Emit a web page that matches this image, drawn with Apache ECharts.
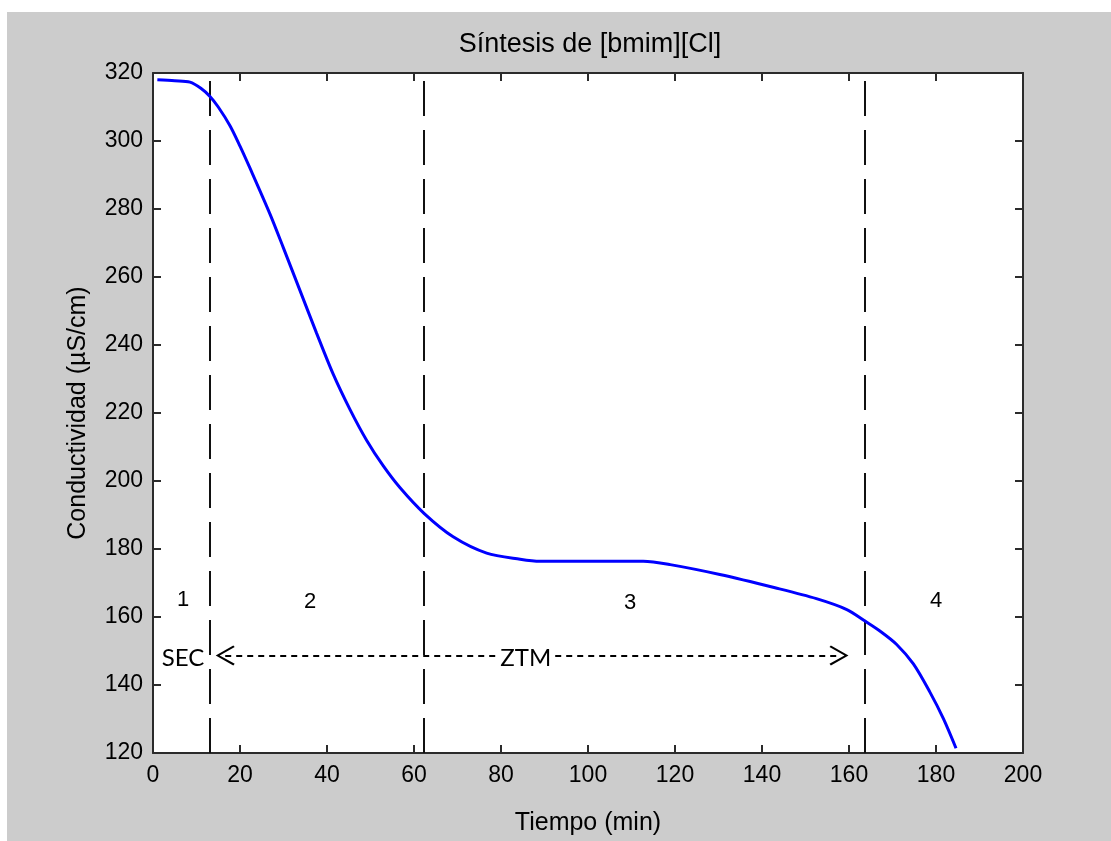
<!DOCTYPE html>
<html>
<head>
	<meta charset="utf-8">
	<title>Síntesis de [bmim][Cl]</title>
	<script src="https://cdn.jsdelivr.net/npm/echarts@6/dist/echarts.min.js"></script>
</head>
<style type="text/css">
html, body {
	margin: 0;
	padding: 0;
	background: #ffffff;
}
#fondo {
	position: absolute;
	left: 7px;
	top: 12px;
	width: 1104px;
	height: 829px;
	background: #cccccc;
}
#grafica {
	position: absolute;
	left: 0;
	top: 0;
	width: 1111px;
	height: 841px;
}
</style>
<body>
	<div id="fondo"></div>
	<div id="grafica"></div>
</body>

<script type="text/javascript">
	var tiempo = [1, 5, 8.5, 11, 13.1, 15, 17.7, 20, 22.3, 26.9, 30, 33.8, 37.6, 41.4, 45.3, 49.1,
		52.9, 56.8, 62.3, 69, 76.7, 84.4, 89, 100, 112.7, 118.9, 130.3, 143, 152.5, 159.5, 163.7,
		167.1, 170.9, 174.8, 178.6, 181.7, 184.6];
	var conductividad = [318, 317.7, 317.3, 315.5, 313.1, 310, 304.5, 298.5, 292, 278.5, 268.5, 256,
		243.5, 231.5, 221, 212, 204.5, 198, 190.5, 183.6, 178.8, 177, 176.4, 176.4, 176.4, 175.4,
		172.5, 168.6, 165.4, 162.2, 158.8, 155.9, 152, 146.2, 137.9, 130.1, 121.4];

	// limites de zonas (lineas verticales)
	var limites = [13.1, 62.3, 163.7];

	// etiquetas de zonas
	var zonas = ['1', '2', '3', '4'];
	var zonasX = [6.9, 36.1, 109.7, 180];
	var zonasY = [165, 164.4, 164.1, 164.7];

	// flecha doble SEC / ZTM
	var flechaY = 148.7;
	var flechaX = [16.6, 157.7];
	var notas = ['SEC', 'ZTM'];
	var notasX = [6.9, 85.7];
	var notasY = [148, 148];

	var ticksX = [0, 200, 20];
	var ticksY = [120, 320, 20];

	var Chart = echarts.init(document.getElementById('grafica'));

	var fuente = 'Liberation Sans, Arial, sans-serif';
	var flechaPath = 'path://M50,0 L100,88 L92,95 L50,20 L8,95 L0,88 Z';

	var datosCurva = [];
	for (var i = 0; i < tiempo.length; i++) {
		datosCurva.push([tiempo[i], conductividad[i]]);
	}
	var datosZonas = [];
	for (var i = 0; i < zonas.length; i++) {
		datosZonas.push({value: [zonasX[i], zonasY[i]], name: zonas[i]});
	}
	var datosNotas = [];
	for (var i = 0; i < notas.length; i++) {
		datosNotas.push({value: [notasX[i], notasY[i]], name: notas[i]});
	}
	var lineasV = [];
	for (var i = 0; i < limites.length; i++) {
		lineasV.push({xAxis: limites[i]});
	}

	var ejeX = function (pos, etiquetas) {
		return {
			type: 'value',
			position: pos,
			min: ticksX[0], max: ticksX[1], interval: ticksX[2],
			name: etiquetas ? 'Tiempo (min)' : '',
			nameLocation: 'middle',
			nameGap: 58,
			nameTextStyle: {color: '#000', fontSize: 25, fontFamily: fuente},
			axisLine: {show: true, onZero: false, lineStyle: {color: '#2b2b2b', width: 2}},
			axisTick: {show: true, inside: true, length: 8, lineStyle: {color: '#2b2b2b', width: 2}},
			axisLabel: {show: etiquetas, color: '#000', fontSize: 23, fontFamily: fuente, margin: 11},
			splitLine: {show: false}
		};
	};
	var ejeY = function (pos, etiquetas) {
		return {
			type: 'value',
			position: pos,
			min: ticksY[0], max: ticksY[1], interval: ticksY[2],
			name: etiquetas ? 'Conductividad (\u00b5S/cm)' : '',
			nameLocation: 'middle',
			nameGap: 62,
			nameRotate: 90,
			nameTextStyle: {color: '#000', fontSize: 25, fontFamily: fuente},
			axisLine: {show: true, onZero: false, lineStyle: {color: '#2b2b2b', width: 2}},
			axisTick: {show: true, inside: true, length: 8, lineStyle: {color: '#2b2b2b', width: 2}},
			axisLabel: {show: etiquetas, color: '#000', fontSize: 23, fontFamily: fuente, margin: 10},
			splitLine: {show: false}
		};
	};

	var option = {
		animation: false,
		backgroundColor: 'transparent',
		title: {
			text: 'Síntesis de [bmim][Cl]',
			left: 585,
			top: 26,
			textAlign: 'center',
			textStyle: {color: '#000', fontSize: 27, fontWeight: 'normal', fontFamily: fuente}
		},
		grid: {
			left: 153,
			right: 88,
			top: 73,
			bottom: 83,
			show: true,
			backgroundColor: '#ffffff',
			borderWidth: 0
		},
		xAxis: [ejeX('bottom', true), ejeX('top', false)],
		yAxis: [ejeY('left', true), ejeY('right', false)],
		series: [
			{
				name: 'Conductividad',
				type: 'line',
				data: datosCurva,
				showSymbol: false,
				smooth: 0.3,
				lineStyle: {color: '#0000ff', width: 3},
				z: 5,
				markLine: {
					silent: true,
					symbol: 'none',
					label: {show: false},
					lineStyle: {color: '#111', width: 2, type: [35, 14]},
					data: lineasV
				}
			},
			{
				// flecha de doble punta
				name: 'flecha',
				type: 'line',
				data: [],
				markLine: {
					silent: true,
					symbol: [flechaPath, flechaPath],
					symbolSize: [20, 19],
					label: {show: false},
					lineStyle: {color: '#000', width: 2, type: [6, 5]},
					data: [[
						{coord: [flechaX[0], flechaY]},
						{coord: [flechaX[1], flechaY]}
					]]
				}
			},
			{
				name: 'zonas',
				type: 'scatter',
				symbolSize: 0,
				data: datosZonas,
				z: 6,
				itemStyle: {opacity: 1},
				label: {
					show: true,
					position: 'inside',
					formatter: '{b}',
					color: '#000',
					fontSize: 22,
					fontFamily: fuente
				}
			},
			{
				name: 'notas',
				type: 'scatter',
				symbolSize: 0,
				data: datosNotas,
				z: 7,
				itemStyle: {opacity: 1},
				label: {
					show: true,
					position: 'inside',
					formatter: '{b}',
					color: '#000',
					fontSize: 24,
					fontFamily: 'Lato, sans-serif',
					backgroundColor: '#ffffff',
					padding: [0, 2]
				}
			}
		]
	};
	Chart.setOption(option);
</script>
</html>
